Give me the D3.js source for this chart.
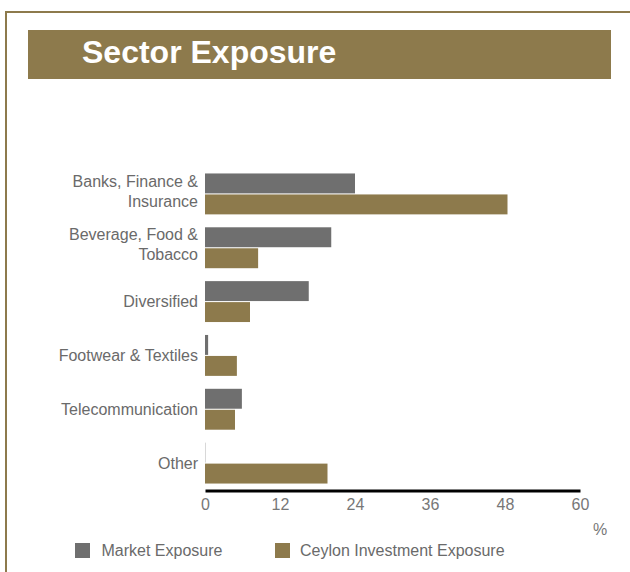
<!DOCTYPE html>
<html>
<head>
<meta charset="utf-8">
<script src="https://cdn.jsdelivr.net/npm/d3@7"></script>
<style>
  html, body { margin: 0; padding: 0; background: #fff; }
  svg { display: block; }
  text { font-family: "Liberation Sans", Arial, Helvetica, sans-serif; }
</style>
</head>
<body>
<svg id="chart" width="630" height="572"></svg>
<script>
// Sector labels (one entry per line of text)
const categories = [
  ["Banks, Finance &", "Insurance"],
  ["Beverage, Food &", "Tobacco"],
  ["Diversified"],
  ["Footwear & Textiles"],
  ["Telecommunication"],
  ["Other"]
];
// Exposure in % per sector
const marketExposure = [24.0, 20.2, 16.6, 0.5, 5.9, 0];
const ceylonExposure = [48.4, 8.5, 7.2, 5.1, 4.8, 19.6];
const seriesNames = ["Market Exposure", "Ceylon Investment Exposure"];
const xTicks = [0, 12, 24, 36, 48, 60];

const GOLD = "#8d7a4c";
const GREY = "#6f6f6f";
const FONT = 16;

const svg = d3.select("#chart");

// Frame lines (top and left)
svg.append("line").attr("x1", 5).attr("x2", 630).attr("y1", 12).attr("y2", 12)
  .attr("stroke", GOLD).attr("stroke-width", 2);
svg.append("line").attr("x1", 6).attr("x2", 6).attr("y1", 11).attr("y2", 572)
  .attr("stroke", GOLD).attr("stroke-width", 2);

// Title banner
svg.append("rect").attr("x", 28).attr("y", 30).attr("width", 583).attr("height", 49)
  .attr("fill", GOLD);
svg.append("text").attr("x", 82).attr("y", 63)
  .attr("fill", "#fff").attr("font-size", 32).attr("font-weight", "bold")
  .text("Sector Exposure");

const keys = categories.map(d => d.join(" "));
const x = d3.scaleLinear().domain([0, 60]).range([205, 580]);
const y = d3.scaleBand().domain(keys).range([167, 490])
  .paddingInner(0.24).paddingOuter(0.12);
const inner = d3.scaleBand().domain(seriesNames).range([0, y.bandwidth()])
  .paddingInner(0.05);
const color = d3.scaleOrdinal().domain(seriesNames).range([GREY, GOLD]);

const rows = keys.map((k, i) => ({
  key: k,
  lines: categories[i],
  values: [
    { series: seriesNames[0], value: marketExposure[i] },
    { series: seriesNames[1], value: ceylonExposure[i] }
  ]
}));

const groups = svg.append("g").selectAll("g").data(rows).join("g")
  .attr("transform", d => `translate(0,${y(d.key)})`);

groups.selectAll("rect").data(d => d.values).join("rect")
  .attr("x", x(0))
  .attr("y", d => inner(d.series))
  .attr("width", d => x(d.value) - x(0))
  .attr("height", inner.bandwidth())
  .attr("fill", d => color(d.series));

// hairline for zero-valued bars
groups.selectAll("line.zero").data(d => d.values.filter(v => v.value === 0)).join("line")
  .attr("class", "zero")
  .attr("x1", x(0) + 0.5).attr("x2", x(0) + 0.5)
  .attr("y1", d => inner(d.series))
  .attr("y2", d => inner(d.series) + inner.bandwidth())
  .attr("stroke", "#d8d8d8").attr("stroke-width", 1);

// Category labels
groups.append("text")
  .attr("text-anchor", "end")
  .attr("fill", "#6a6a6a")
  .attr("font-size", FONT)
  .each(function(d) {
    const t = d3.select(this);
    const n = d.lines.length;
    const mid = y.bandwidth() / 2 - (n > 1 ? 3 : 0);
    d.lines.forEach((line, j) => {
      t.append("tspan")
        .attr("x", 198)
        .attr("y", mid + (j - (n - 1) / 2) * 20)
        .attr("dy", "0.35em")
        .text(line);
    });
  });

// X axis
const axis = svg.append("g").attr("transform", "translate(0,490.5)")
  .call(d3.axisBottom(x).tickValues(xTicks).tickSize(0).tickPadding(8));
axis.select(".domain").attr("stroke", "#000").attr("stroke-width", 3);
axis.selectAll("text").attr("fill", "#777").attr("font-size", FONT)
  .attr("font-family", '"Liberation Sans", Arial, Helvetica, sans-serif');

svg.append("text").attr("x", 600).attr("y", 529).attr("dy", "0.35em")
  .attr("text-anchor", "middle").attr("fill", "#777").attr("font-size", FONT)
  .text("%");

// Legend
const legendX = [75, 275];
const legend = svg.append("g").selectAll("g").data(seriesNames).join("g")
  .attr("transform", (d, i) => `translate(${legendX[i]},543)`);
legend.append("rect").attr("width", 15).attr("height", 15)
  .attr("fill", d => color(d));
legend.append("text").attr("x", (d, i) => i === 0 ? 26.5 : 25).attr("y", 7.5)
  .attr("dy", "0.35em").attr("fill", "#6a6a6a").attr("font-size", FONT)
  .text(d => d);
</script>
</body>
</html>
